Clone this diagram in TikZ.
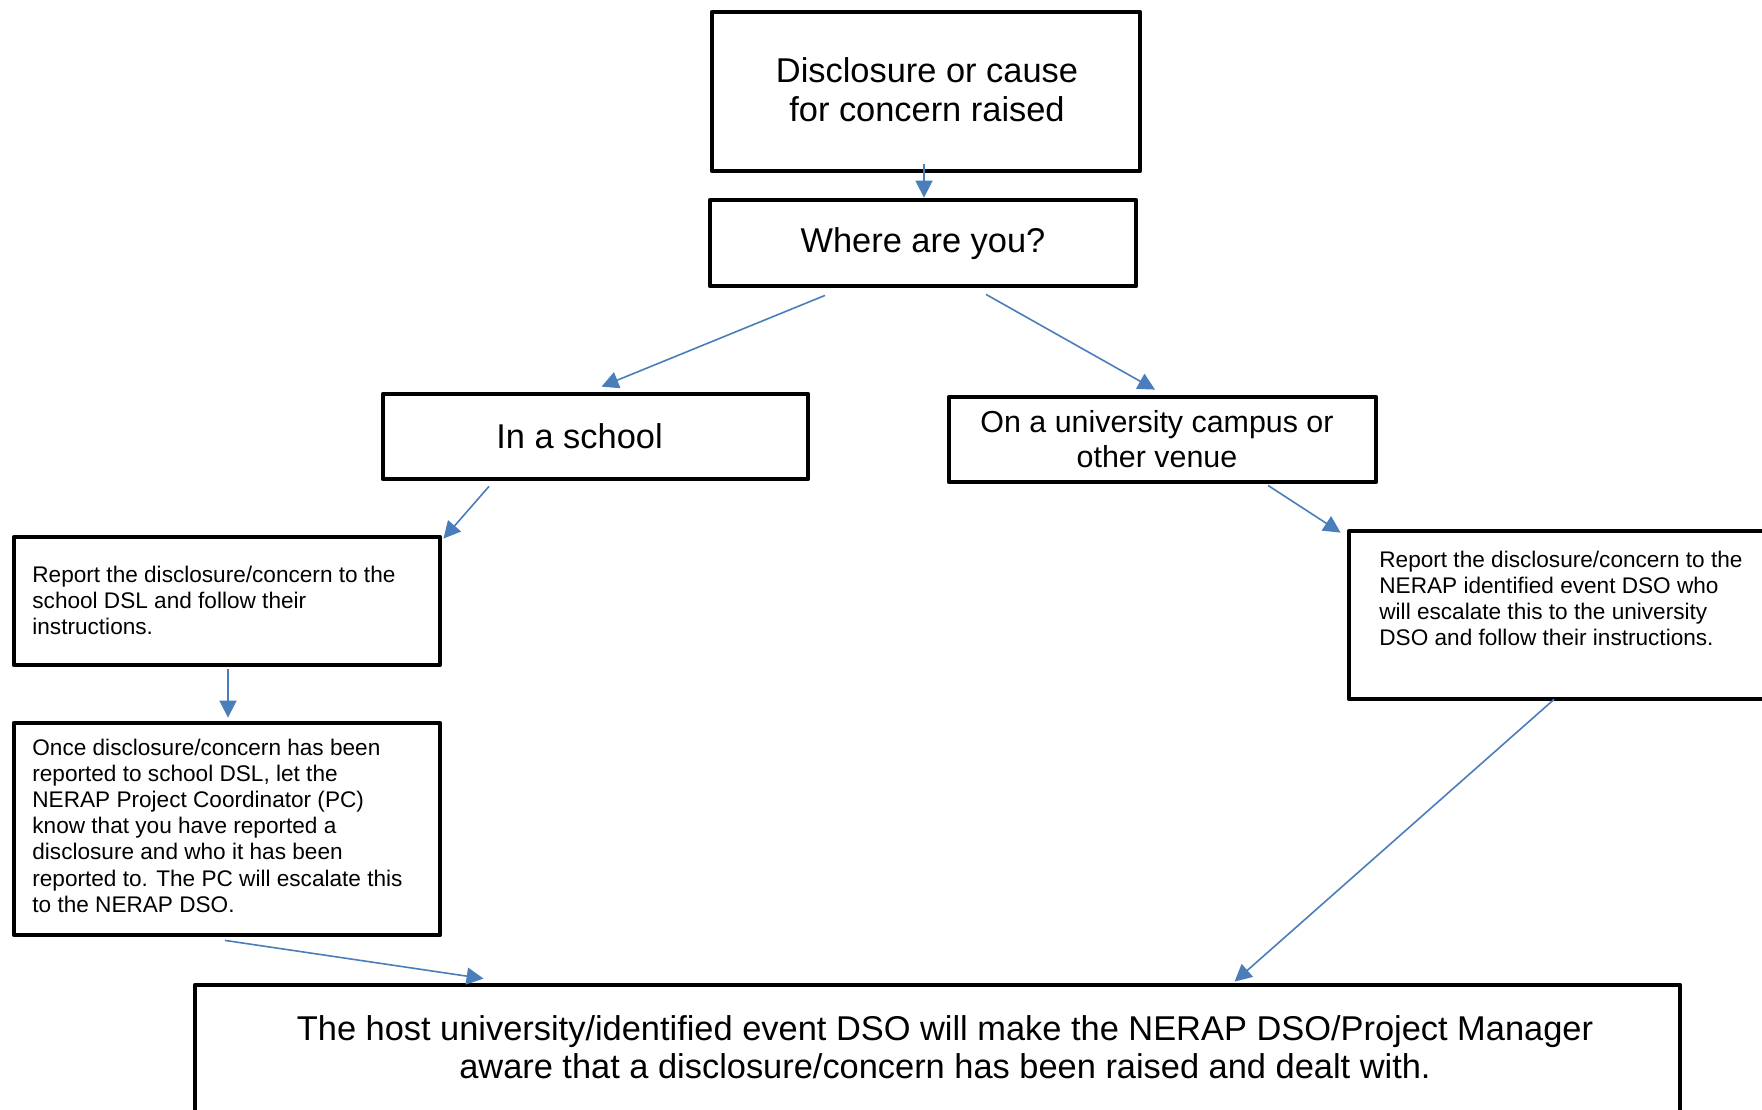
\documentclass[tikz,border=0pt]{standalone}
\usepackage{fontspec}
\setmainfont{Liberation Sans}
\usetikzlibrary{arrows.meta}
\definecolor{arrowblue}{RGB}{74,126,187}
\newcommand{\fbig}{\fontsize{17.2}{19.8}\selectfont}
\newcommand{\fbigb}{\fontsize{17.2}{19.1}\selectfont}
\newcommand{\fmid}{\fontsize{15.2}{17.5}\selectfont}
\newcommand{\fsml}{\fontsize{11.3}{13.1}\selectfont}
\tikzset{
  box/.style={draw=black, line width=2.4pt, line join=round, rectangle, inner sep=0pt},
  arr/.style={draw=arrowblue, line width=0.8pt, -{Triangle[length=8.5pt,width=8.5pt]}},
  ctxt/.style={inner sep=0pt, anchor=base},
  ltxt/.style={inner sep=0pt, anchor=base west}
}
\begin{document}
\begin{tikzpicture}[x=0.5pt,y=-0.5pt]
\useasboundingbox (0,0) rectangle (1762,1109);
\clip (0,0) rectangle (1762,1109);
\fill[white] (0,0) rectangle (1762,1109);

% boxes
\node[box, minimum width=214pt, minimum height=79.5pt] (b1) at (926,91.5) {};
\node[box, minimum width=213pt, minimum height=43pt] (b2) at (923,243) {};
\node[box, minimum width=212.5pt, minimum height=42.5pt] (b3) at (595.5,436.5) {};
\node[box, minimum width=213.5pt, minimum height=42.5pt] (b4) at (1162.5,439.5) {};
\node[box, minimum width=213pt, minimum height=64pt] (b5) at (227,601) {};
\node[box, minimum width=213pt, minimum height=106pt] (b6) at (227,829) {};
\node[box, minimum width=213pt, minimum height=84pt] (b7) at (1562,615) {};
\node[box, minimum width=742.5pt, minimum height=70pt] (b8) at (937.5,1055) {};

% texts
\node[ctxt, font=\fbig] (t1) at (927,82) {\begin{tabular}[t]{@{}c@{}}Disclosure or cause\\for concern raised\end{tabular}};
\node[ctxt, font=\fbig] (t2) at (923,252) {Where are you?};
\node[ctxt, font=\fbig] (t3) at (579.5,448) {In a school};
\node[ctxt, font=\fmid] (t4) at (1157,432) {\begin{tabular}[t]{@{}c@{}}On a university campus or\\other venue\end{tabular}};
\node[ltxt, font=\fsml] (t5) at (32,582) {\begin{tabular}[t]{@{}l@{}}Report the disclosure/concern to the\\school DSL and follow their\\instructions.\end{tabular}};
\node[ltxt, font=\fsml] (t6) at (32,755) {\begin{tabular}[t]{@{}l@{}}Once disclosure/concern has been\\reported to school DSL, let the\\NERAP Project Coordinator (PC)\\know that you have reported a\\disclosure and who it has been\\reported to. The PC will escalate this\\to the NERAP DSO.\end{tabular}};
\node[ltxt, font=\fsml] (t7) at (1379,567) {\begin{tabular}[t]{@{}l@{}}Report the disclosure/concern to the\\NERAP identified event DSO who\\will escalate this to the university\\DSO and follow their instructions.\end{tabular}};
\node[ctxt, font=\fbigb] (t8) at (945,1040) {\begin{tabular}[t]{@{}c@{}}The host university/identified event DSO will make the NERAP DSO/Project Manager\\aware that a disclosure/concern has been raised and dealt with.\end{tabular}};

% connectors
\draw[arr] ([shift={(-2,-9)}]b1.south) -- ([shift={(1,0)}]b2.north);
\draw[arr] ([shift={(-98,7)}]b2.south) -- ([shift={(6,-5)}]b3.north);
\draw[arr] ([shift={(63,6)}]b2.south) -- ([shift={(-7.5,-5)}]b4.north);
\draw[arr] ([shift={(-106.5,5)}]b3.south) -- ([shift={(1,4)}]b5.north east);
\draw[arr] ([shift={(105.5,1)}]b4.south) -- ([shift={(-6,4)}]b7.north west);
\draw[arr] ([shift={(1,2)}]b5.south) -- ([shift={(1,-3)}]b6.north);
\draw[arr] ([shift={(-2,3)}]b6.south) -- ([shift={(291,-4)}]b8.north west);
\draw[arr] ([shift={(-8,-2)}]b7.south) -- ([shift={(1042,-1)}]b8.north west);
\end{tikzpicture}
\end{document}
